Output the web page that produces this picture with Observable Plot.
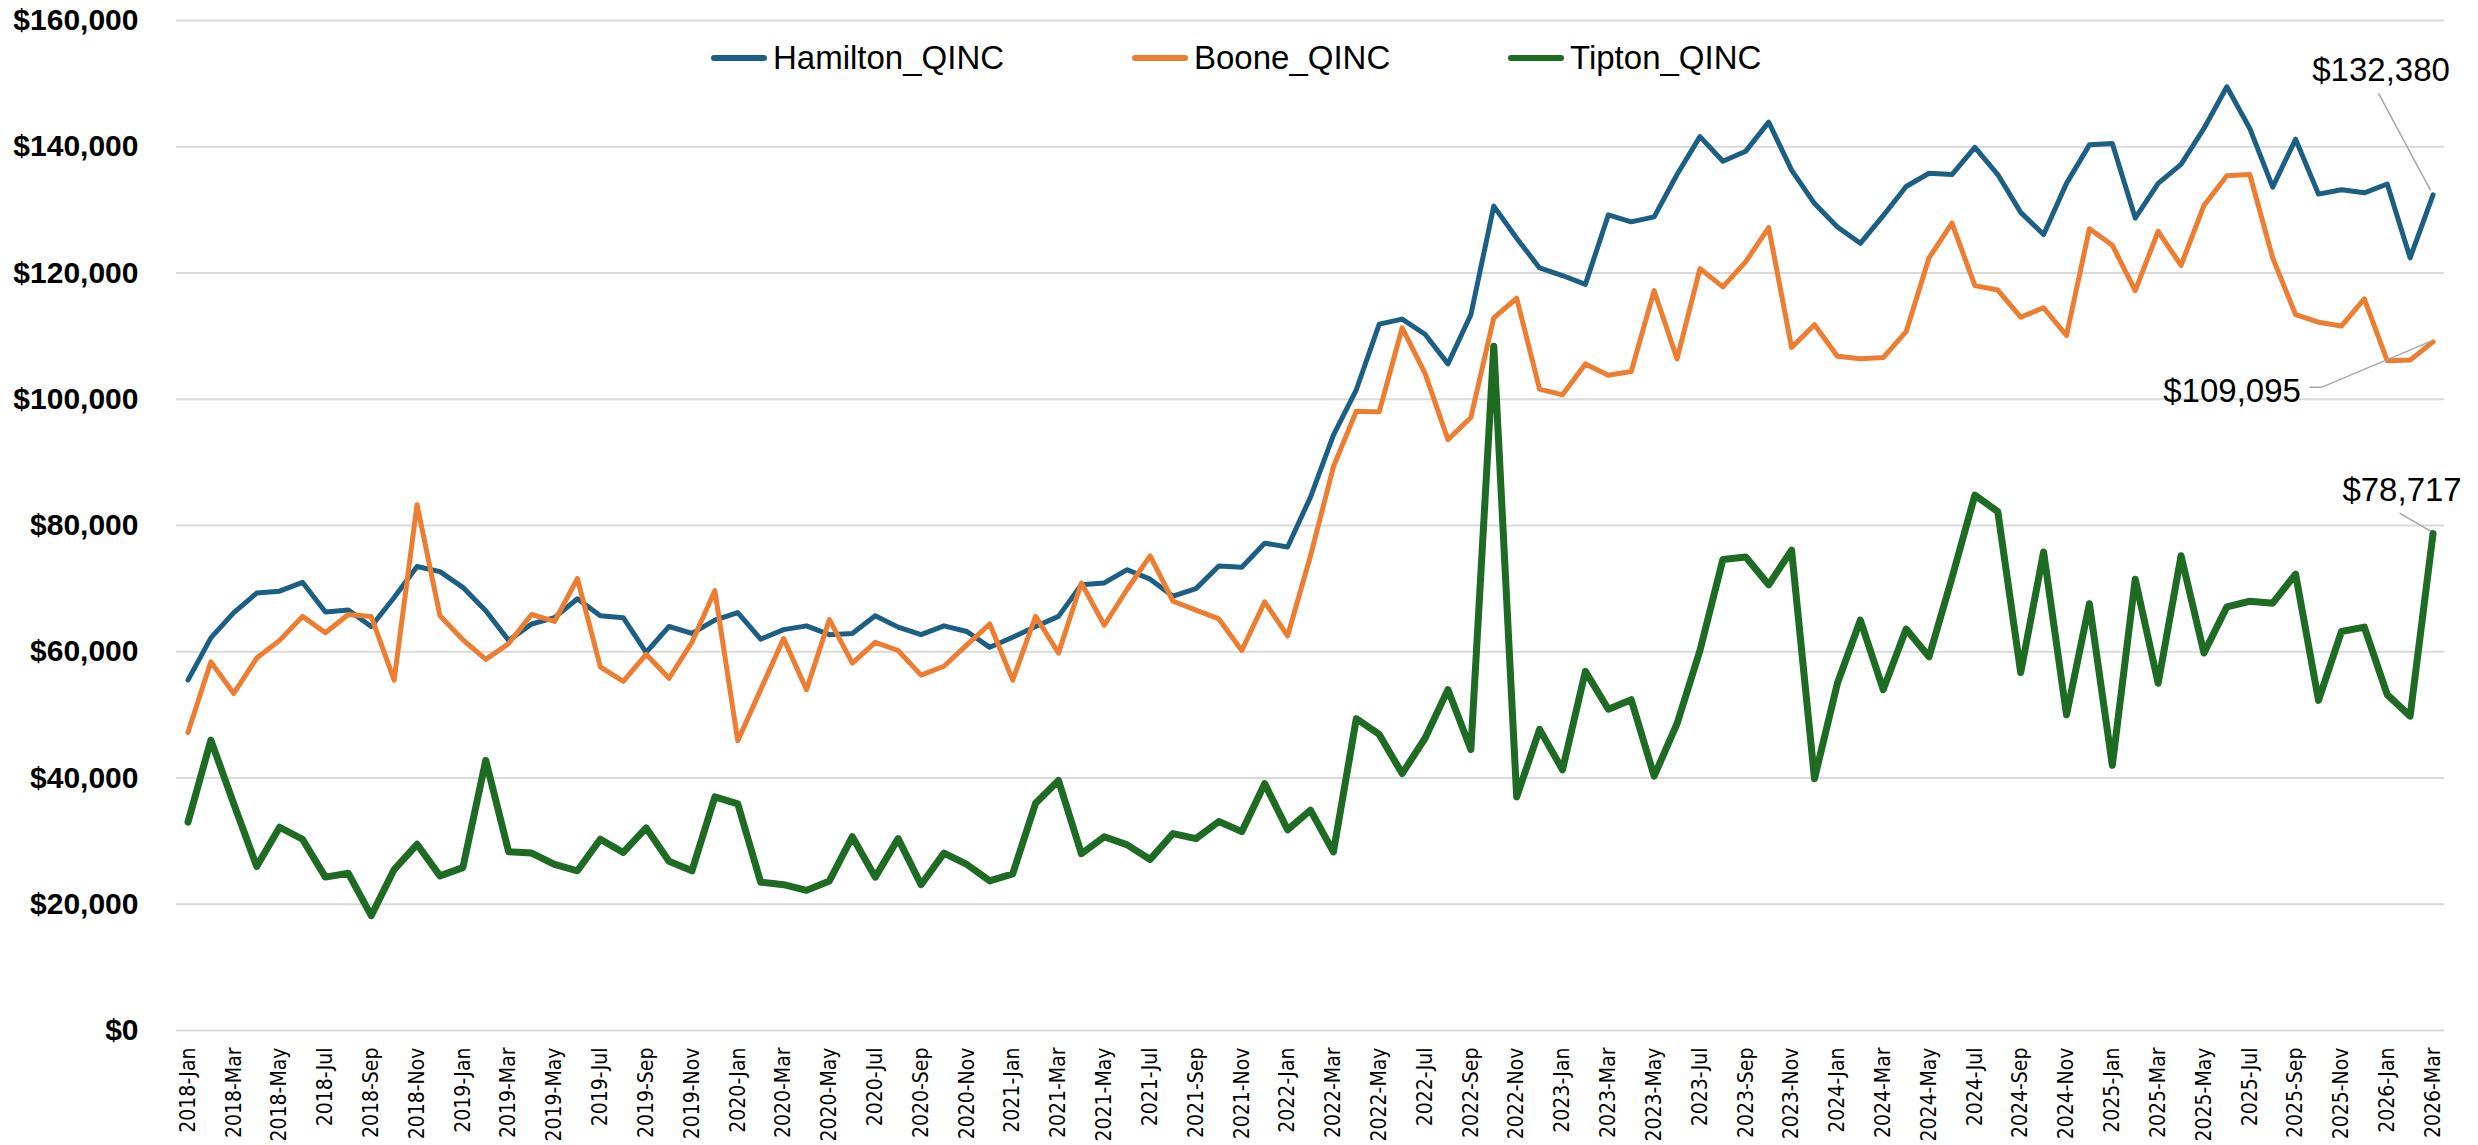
<!DOCTYPE html>
<html><head><meta charset="utf-8">
<script src="https://cdn.jsdelivr.net/npm/d3@7"></script>
<script src="https://cdn.jsdelivr.net/npm/@observablehq/plot@0.6"></script>
<style>
html,body{margin:0;padding:0;background:#fff;overflow:hidden;}
#wrap{position:relative;width:2478px;height:1145px;}
#legend{position:absolute;left:0;top:0;width:2478px;height:1px;font-family:"Liberation Sans",Arial,sans-serif;font-size:33px;color:#000;}
.item{position:absolute;top:39px;height:38px;line-height:38px;display:flex;align-items:center;white-space:nowrap;}
.swatch{width:56px;height:6px;border-radius:3px;margin-right:6px;}
</style></head><body><div id="wrap"><div id="legend"></div></div>
<script>
const months = ["2018-Jan","2018-Feb","2018-Mar","2018-Apr","2018-May","2018-Jun","2018-Jul","2018-Aug","2018-Sep","2018-Oct","2018-Nov","2018-Dec",
"2019-Jan","2019-Feb","2019-Mar","2019-Apr","2019-May","2019-Jun","2019-Jul","2019-Aug","2019-Sep","2019-Oct","2019-Nov","2019-Dec",
"2020-Jan","2020-Feb","2020-Mar","2020-Apr","2020-May","2020-Jun","2020-Jul","2020-Aug","2020-Sep","2020-Oct","2020-Nov","2020-Dec",
"2021-Jan","2021-Feb","2021-Mar","2021-Apr","2021-May","2021-Jun","2021-Jul","2021-Aug","2021-Sep","2021-Oct","2021-Nov","2021-Dec",
"2022-Jan","2022-Feb","2022-Mar","2022-Apr","2022-May","2022-Jun","2022-Jul","2022-Aug","2022-Sep","2022-Oct","2022-Nov","2022-Dec",
"2023-Jan","2023-Feb","2023-Mar","2023-Apr","2023-May","2023-Jun","2023-Jul","2023-Aug","2023-Sep","2023-Oct","2023-Nov","2023-Dec",
"2024-Jan","2024-Feb","2024-Mar","2024-Apr","2024-May","2024-Jun","2024-Jul","2024-Aug","2024-Sep","2024-Oct","2024-Nov","2024-Dec",
"2025-Jan","2025-Feb","2025-Mar","2025-Apr","2025-May","2025-Jun","2025-Jul","2025-Aug","2025-Sep","2025-Oct","2025-Nov","2025-Dec",
"2026-Jan","2026-Feb","2026-Mar"];

const seriesNames = ["Hamilton_QINC", "Boone_QINC", "Tipton_QINC"];

const hamilton = [55500,62200,66200,69300,69600,71000,66300,66600,64000,68600,73500,72700,
70200,66500,61800,64400,65400,68400,65700,65400,59900,64000,62900,65000,
66200,62000,63500,64100,62700,62900,65700,63900,62700,64100,63200,60700,
62300,64000,65600,70600,70900,73000,71500,68800,70000,73600,73400,77200,
76600,84500,94300,101500,111900,112700,110300,105600,113400,130600,125500,120800,
119600,118200,129200,128100,128900,135600,141600,137700,139300,143900,136300,131000,
127300,124700,129100,133700,135800,135600,139900,135600,129600,126100,134200,140300,
140500,128700,134200,137200,142900,149500,142900,133600,141200,132500,133200,132700,
134100,122400,132380];

const boone = [47200,58400,53400,59000,61800,65600,63000,65900,65600,55500,83300,65700,
61900,58800,61300,65900,64800,71600,57600,55300,59600,55800,61500,69700,
45900,54000,62100,54000,65100,58200,61500,60200,56300,57700,61100,64400,
55500,65600,59800,70900,64200,69900,75200,68000,66600,65200,60200,67900,
62500,75200,89300,98100,98000,111300,104100,93600,97100,112900,116000,101600,
100700,105600,103800,104400,117200,106400,120700,117800,121800,127200,108200,111800,
106800,106400,106600,110700,122400,127900,118000,117300,113000,114500,110100,127000,
124400,117200,126600,121200,130700,135400,135600,122400,113400,112200,111600,115900,
106100,106200,109095];

const tipton = [33000,46000,35900,26000,32200,30300,24300,24900,18200,25500,29500,24500,
25800,42800,28300,28100,26300,25300,30300,28200,32100,26800,25300,37000,
35900,23500,23100,22200,23700,30700,24300,30400,23100,28100,26300,23700,
24800,36000,39600,28000,30700,29400,27100,31200,30400,33100,31500,39100,
31800,34900,28300,49400,46900,40700,46300,54000,44500,108400,37000,47700,
41300,56900,50900,52400,40300,48600,60200,74600,75000,70600,76100,39900,
55000,65000,54000,63600,59200,71700,84800,82200,56700,75800,50000,67600,
42000,71500,55000,75200,59800,67100,68000,67700,72300,52300,63200,63900,
53200,49800,78717];

const yTicks = [0, 20000, 40000, 60000, 80000, 100000, 120000, 140000, 160000];
const xTicks = months.filter((m, i) => i % 2 === 0);

const colors = ["#1b5f84", "#ed7d31", "#1e6b23"];
const widths = [5, 5, 7];
const allSeries = [hamilton, boone, tipton];

const lastMonth = months[months.length - 1];
const lastValues = allSeries.map(s => s[s.length - 1]);

// label offsets (px) relative to last point, and leader-line paths
const labelDx = [-52, -201, -31];
const labelDy = [-124, 50, -43];
const leaderPaths = [
  [[-54, -101], [-2, -4]],
  [[-123, 46], [-111, 46], [-2, 0]],
  [[-33, -20], [-2, -2]]
];

const money = d3.format("$,");
const narrow = "'DejaVu Sans Condensed', 'Liberation Sans Narrow', sans-serif";
const base = "'Liberation Sans', Arial, sans-serif";

function leaders(index, scales) {
  const g = d3.create("svg:g").attr("stroke", "#a6a6a6").attr("stroke-width", 1.5).attr("fill", "none");
  leaderPaths.forEach((pts, k) => {
    const px = scales.x(lastMonth), py = scales.y(lastValues[k]);
    g.append("path").attr("d", "M" + pts.map(([dx, dy]) => `${px + dx},${py + dy}`).join("L"));
  });
  return g.node();
}

const chart = Plot.plot({
  width: 2478, height: 1145,
  marginLeft: 176, marginRight: 34, marginTop: 20, marginBottom: 115,
  style: {background: "#fff", fontFamily: base, overflow: "visible", color: "#000"},
  x: {type: "point", domain: months, padding: 0.5, label: null},
  y: {domain: [0, 160000], label: null},
  marks: [
    Plot.gridY(yTicks, {stroke: "#d9d9d9", strokeOpacity: 1, strokeWidth: 2}),
    Plot.axisY(yTicks, {tickSize: 0, tickPadding: 38, tickFormat: money, fontSize: 30, fontWeight: "bold", fill: "#000", label: null}),
    Plot.axisX(xTicks, {tickSize: 0, tickPadding: 17, tickRotate: -90, fontSize: 21, fontFamily: narrow, fill: "#000", label: null}),
    ...allSeries.map((s, k) => Plot.line(s, {x: (d, i) => months[i], y: d => d, stroke: colors[k], strokeWidth: widths[k], strokeLinejoin: "round", strokeLinecap: "round"})),
    leaders,
    ...lastValues.map((v, k) => Plot.text([v], {x: () => lastMonth, y: d => d, text: d => money(d), dx: labelDx[k], dy: labelDy[k], fontSize: 33, fontFamily: base, fill: "#000", textAnchor: "middle"}))
  ]
});
document.getElementById("wrap").prepend(chart);

const legendX = [711, 1132, 1508];
const legend = document.getElementById("legend");
seriesNames.forEach((name, k) => {
  const item = document.createElement("div");
  item.className = "item";
  item.style.left = legendX[k] + "px";
  const sw = document.createElement("span");
  sw.className = "swatch";
  sw.style.background = colors[k];
  const t = document.createElement("span");
  t.textContent = name;
  item.append(sw, t);
  legend.append(item);
});
</script>
</body></html>
